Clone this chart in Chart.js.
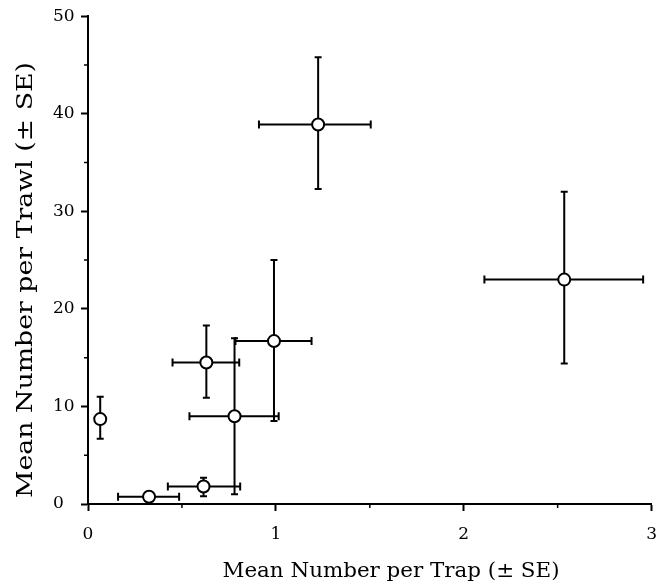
<!DOCTYPE html>
<html>
<head>
<meta charset="utf-8">
<script src="https://cdn.jsdelivr.net/npm/chart.js@4.4.1/dist/chart.umd.min.js"></script>
<style>
  html, body { margin: 0; padding: 0; background: #fff; overflow: hidden; }
  #wrap { width: 670px; height: 584px; }
</style>
</head>
<body>
<div id="wrap"><canvas id="chart" width="670" height="584"></canvas></div>
<script>
// mean per trap (x) with SE range, mean per trawl (y) with SE range
const trapMean  = [0.065, 0.325, 0.615, 0.63,  0.78,  0.99,  1.225, 2.535];
const trapLow   = [0.065, 0.16,  0.425, 0.45,  0.54,  0.785, 0.91,  2.11];
const trapHigh  = [0.065, 0.485, 0.81,  0.805, 1.015, 1.19,  1.505, 2.955];
const trawlMean = [8.7,   0.75,  1.8,   14.5,  9.0,   16.7,  38.9,  23.0];
const trawlLow  = [6.7,   0.75,  0.8,   10.9,  1.0,   8.5,   32.3,  14.4];
const trawlHigh = [11.0,  0.75,  2.7,   18.3,  17.0,  25.0,  45.8,  32.0];

const xMinorTicks = [0.5, 1.5, 2.5];
const yMinorTicks = [5, 15, 25, 35, 45];

const xTitle = "Mean Number per Trap (\u00b1 SE)";
const yTitle = "Mean Number per Trawl (\u00b1 SE)";

const SERIF = '"DejaVu Serif", "Liberation Serif", serif';
Chart.defaults.font.family = SERIF;
Chart.defaults.color = "#000";

function buildDatasets() {
  const sets = [{
    label: "points",
    data: trapMean.map((x, i) => ({ x, y: trawlMean[i] })),
    showLine: false,
    pointRadius: 6,
    pointBackgroundColor: "#fff",
    pointBorderColor: "#000",
    pointBorderWidth: 2,
    order: 0,
  }];
  const bar = (data, rotation, radius) => ({
    data,
    showLine: true,
    borderColor: "#000",
    borderWidth: 2,
    pointStyle: "line",
    pointRotation: rotation,
    pointRadius: radius,
    pointBorderColor: "#000",
    pointBorderWidth: 2,
    order: 1,
  });
  trapMean.forEach((x, i) => {
    const y = trawlMean[i];
    if (trapHigh[i] > trapLow[i]) {
      sets.push(bar([{ x: trapLow[i], y }, { x: trapHigh[i], y }], 90, 4));
    }
    if (trawlHigh[i] > trawlLow[i]) {
      sets.push(bar([{ x, y: trawlLow[i] }, { x, y: trawlHigh[i] }], 0, 3.5));
    }
  });
  return sets;
}

const minorTicks = {
  id: "minorTicks",
  afterDraw(chart) {
    const { ctx, scales: { x, y } } = chart;
    ctx.save();
    ctx.strokeStyle = "#000";
    ctx.lineWidth = 1.5;
    ctx.beginPath();
    xMinorTicks.forEach((v) => {
      const px = x.getPixelForValue(v);
      ctx.moveTo(px, x.top);
      ctx.lineTo(px, x.top + 4);
    });
    yMinorTicks.forEach((v) => {
      const py = y.getPixelForValue(v);
      ctx.moveTo(y.right, py);
      ctx.lineTo(y.right - 4, py);
    });
    ctx.stroke();
    ctx.restore();
  },
};

// axis titles drawn by hand so they can be placed and stretched like the scanned original
function stretchedText(ctx, text, size, length, x, y, rotate) {
  ctx.save();
  ctx.font = `${size}px ${SERIF}`;
  ctx.fillStyle = "#000";
  ctx.textAlign = "center";
  ctx.textBaseline = "alphabetic";
  const sx = length / ctx.measureText(text).width;
  ctx.translate(x, y);
  if (rotate) ctx.rotate(-Math.PI / 2);
  ctx.scale(sx, 1);
  ctx.fillText(text, 0, 0);
  ctx.restore();
}

const axisTitles = {
  id: "axisTitles",
  afterDraw(chart) {
    stretchedText(chart.ctx, yTitle, 23, 436, 32, 280, true);
    stretchedText(chart.ctx, xTitle, 20, 337, 391, 577, false);
  },
};

new Chart(document.getElementById("chart"), {
  type: "scatter",
  data: { datasets: buildDatasets() },
  options: {
    responsive: false,
    devicePixelRatio: 1,
    animation: false,
    events: [],
    layout: { padding: { top: 16, right: 6, left: 53, bottom: 0 } },
    plugins: { legend: { display: false }, tooltip: { enabled: false } },
    scales: {
      x: {
        type: "linear",
        min: 0,
        max: 3,
        ticks: { stepSize: 1, padding: 13, font: { size: 17 }, color: "#000" },
        grid: { drawOnChartArea: false, drawTicks: true, tickLength: 7, tickColor: "#000", tickWidth: 2 },
        border: { display: true, color: "#000", width: 2 },
        afterFit: (s) => { s.height = 80; },
      },
      y: {
        type: "linear",
        min: 0,
        max: 50,
        ticks: { stepSize: 10, padding: 6, crossAlign: "far", font: { size: 17 }, color: "#000" },
        grid: { drawOnChartArea: false, drawTicks: true, tickLength: 7, tickColor: "#000", tickWidth: 2 },
        border: { display: true, color: "#000", width: 2 },
        afterFit: (s) => { s.width = 35; },
      },
    },
  },
  plugins: [minorTicks, axisTitles],
});
</script>
</body>
</html>
